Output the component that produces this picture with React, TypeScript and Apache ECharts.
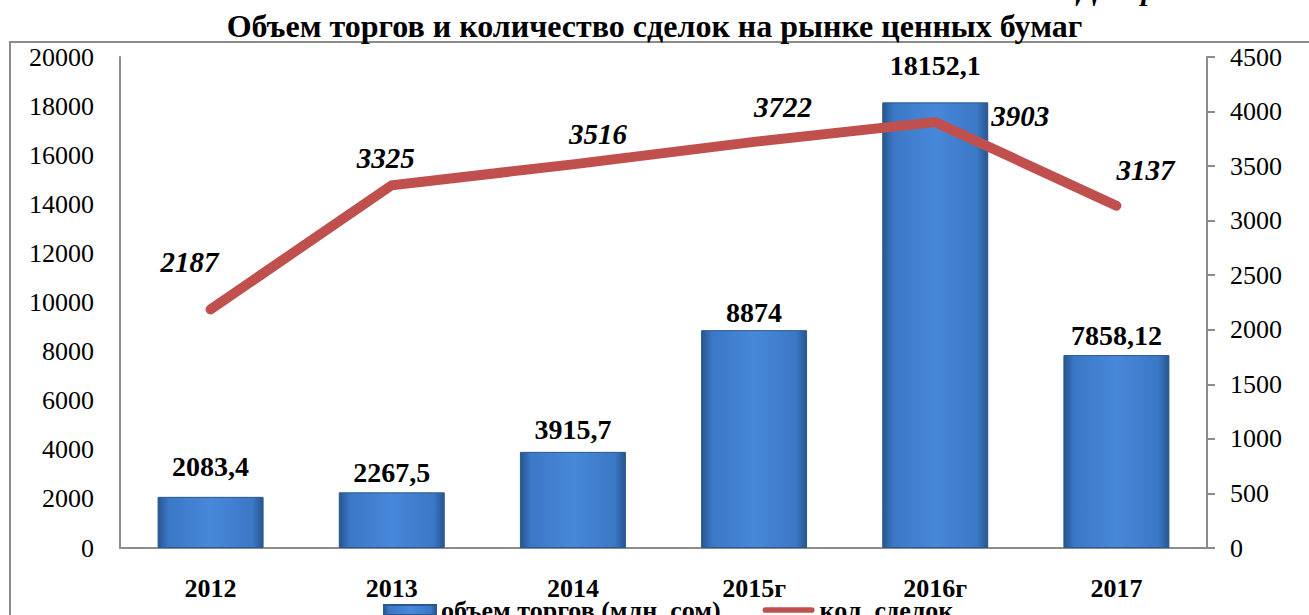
import React, { useEffect, useRef } from "react";
import * as echarts from "echarts";

const categories = ["2012", "2013", "2014", "2015г", "2016г", "2017"];
const volumeValues = [2083.4, 2267.5, 3915.7, 8874, 18152.1, 7858.12];
const volumeLabels = ["2083,4", "2267,5", "3915,7", "8874", "18152,1", "7858,12"];
const dealValues = [2187, 3325, 3516, 3722, 3903, 3137];
const volumeName = "объем торгов (млн. сом)";
const dealName = "кол. сделок";
const titleText = "Объем торгов и количество сделок на рынке ценных бумаг";

const FONT = "Liberation Serif";

// label placement tweaks (pixels) to mirror the reference
const barLabelOffsets = [[0, -16], [0, -6], [0, -8], [0, -4], [0, -23], [0, -6]];
const lineLabelOffsets = [[-21, -32], [-6, -12], [25, -15], [29, -19], [85, 9], [29, -20]];

export default function App() {
  const ref = useRef<HTMLDivElement>(null);
  useEffect(() => {
    if (!ref.current) return;
    const chart = echarts.init(ref.current, null, { renderer: "svg" });
    const barGrad = new echarts.graphic.LinearGradient(0, 0, 1, 0, [
      { offset: 0, color: "#28558e" },
      { offset: 0.1, color: "#3b78c6" },
      { offset: 0.5, color: "#4888da" },
      { offset: 0.9, color: "#3b78c6" },
      { offset: 1, color: "#28558e" },
    ]);
    const option: any = {
      animation: false,
      backgroundColor: "#ffffff",
      textStyle: { fontFamily: FONT },
      title: {
        text: titleText,
        left: "center",
        top: 5,
        textStyle: { fontFamily: FONT, fontWeight: "bold", fontSize: 32, color: "#000" },
      },
      graphic: [
        {
          type: "rect",
          shape: { x: 10, y: 42, width: 1400, height: 700 },
          style: { fill: "none", stroke: "#8c8c8c", lineWidth: 2 },
          silent: true,
        },
        {
          type: "text",
          x: 1078,
          y: -26,
          style: {
            text: "Диаграмма",
            font: "italic bold 30px 'Liberation Serif', serif",
            fill: "#000",
          },
          silent: true,
        },
      ],
      legend: {
        left: 378,
        top: 592,
        itemGap: 42,
        itemWidth: 52,
        itemHeight: 10,
        textStyle: { fontFamily: FONT, fontWeight: "bold", fontSize: 26, color: "#000" },
        data: [
          { name: volumeName, icon: "rect", itemStyle: { color: barGrad } },
          { name: dealName, icon: "path://M3,0 H52 A3,3 0 0 1 52,6 H3 A3,3 0 0 1 3,0 Z", itemStyle: { color: "#C0504D" } },
        ],
      },
      grid: { left: 120, right: 102, top: 57, bottom: 67, containLabel: false },
      xAxis: {
        type: "category",
        data: categories,
        axisLine: { show: true, lineStyle: { color: "#8c8c8c", width: 2 } },
        axisTick: { show: false },
        axisLabel: {
          margin: 27,
          fontFamily: FONT,
          fontWeight: "bold",
          fontSize: 26,
          color: "#000",
        },
      },
      yAxis: [
        {
          type: "value",
          min: 0,
          max: 20000,
          interval: 2000,
          splitLine: { show: false },
          axisLine: { show: true, lineStyle: { color: "#8c8c8c", width: 2 } },
          axisTick: { show: false },
          axisLabel: {
            margin: 26,
            fontFamily: FONT,
            fontSize: 26,
            color: "#000",
            formatter: (v: number) => String(v),
          },
        },
        {
          type: "value",
          min: 0,
          max: 4500,
          interval: 500,
          position: "right",
          splitLine: { show: false },
          axisLine: { show: true, lineStyle: { color: "#8c8c8c", width: 2 } },
          axisTick: { show: true, inside: false, length: 8, lineStyle: { color: "#8c8c8c", width: 2 } },
          axisLabel: {
            margin: 23,
            fontFamily: FONT,
            fontSize: 26,
            color: "#000",
            formatter: (v: number) => String(v),
          },
        },
      ],
      series: [
        {
          name: volumeName,
          type: "bar",
          yAxisIndex: 0,
          barWidth: 106,
          itemStyle: { color: barGrad, borderColor: "#2a5890", borderWidth: 1 },
          data: volumeValues.map((v, i) => ({
            value: v,
            label: { offset: barLabelOffsets[i] },
          })),
          label: {
            show: true,
            position: "top",
            distance: 0,
            fontFamily: FONT,
            fontWeight: "bold",
            fontSize: 28,
            color: "#000",
            formatter: (p: any) => volumeLabels[p.dataIndex],
          },
        },
        {
          name: dealName,
          type: "line",
          yAxisIndex: 1,
          symbol: "circle",
          symbolSize: 2,
          itemStyle: { color: "#C0504D" },
          lineStyle: { color: "#C0504D", width: 10, cap: "round", join: "miter" },
          data: dealValues.map((v, i) => ({
            value: v,
            label: { offset: lineLabelOffsets[i] },
          })),
          label: {
            show: true,
            position: "top",
            distance: 0,
            fontFamily: FONT,
            fontWeight: "bold",
            fontStyle: "italic",
            fontSize: 29,
            color: "#000",
          },
          z: 5,
        },
      ],
    };
    chart.setOption(option);
    return () => chart.dispose();
  }, []);
  return (
    <div
      ref={ref}
      style={{ position: "absolute", left: 0, top: 0, width: 1309, height: 615 }}
    />
  );
}
